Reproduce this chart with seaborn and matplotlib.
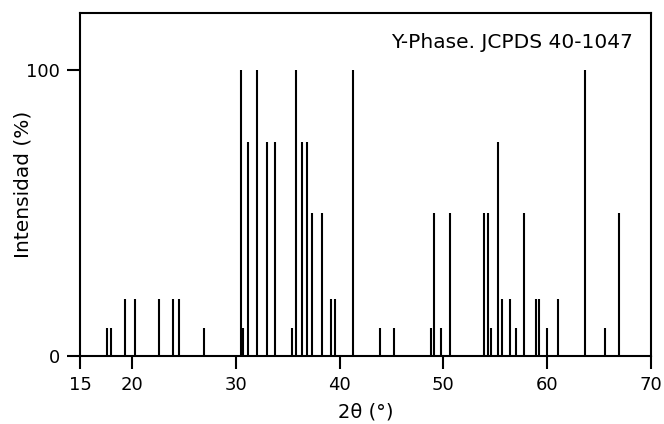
import numpy as np
import matplotlib
matplotlib.use("Agg")
import matplotlib.pyplot as plt
import seaborn as sns

# Y-phase reference pattern (JCPDS 40-1047): peak positions (2theta) and relative intensities
two_theta = [17.56, 17.95, 19.30, 20.26, 22.60, 23.95, 24.49, 26.98,
             30.54, 30.64, 30.72, 31.17, 32.00, 33.00, 33.77,
             35.45, 35.80, 36.37, 36.88, 37.33, 38.35, 39.22, 39.53,
             41.25, 43.92, 45.28, 48.80, 49.07, 49.80, 50.68,
             53.90, 54.27, 54.62, 55.25, 55.66, 56.40, 57.04, 57.80,
             58.96, 59.20, 59.98, 61.05, 63.60, 65.58, 66.95]
intensity = [10, 10, 20, 20, 20, 20, 20, 10,
             100, 10, 10, 75, 100, 75, 75,
             10, 100, 75, 75, 50, 50, 20, 20,
             100, 10, 10, 10, 50, 10, 50,
             50, 50, 10, 75, 20, 20, 10, 50,
             20, 20, 10, 20, 100, 10, 50]

x_ticks = [15, 20, 30, 40, 50, 60, 70]
y_ticks = [0, 100]

sns.set_style("ticks")
plt.rcParams['font.family'] = ['DejaVu Sans']
plt.rcParams['text.color'] = 'black'
plt.rcParams['axes.labelcolor'] = 'black'
plt.rcParams['xtick.color'] = 'black'
plt.rcParams['ytick.color'] = 'black'

fig = plt.figure(figsize=(6.64, 4.24), dpi=100)
ax = fig.add_axes([0.1205, 0.16, 0.86, 0.809])

ax.vlines(two_theta, 0, intensity, color='black', linewidth=1.5)

ax.set_xlim(15, 70)
ax.set_ylim(0, 120)
ax.set_xticks(x_ticks)
ax.set_yticks(y_ticks)
ax.tick_params(direction='out', length=9.5, width=1.5, labelsize=13, pad=5)
for s in ax.spines.values():
    s.set_linewidth(1.5)
    s.set_color('black')

ax.set_xlabel("2θ (°)", fontsize=14)
ax.set_ylabel("Intensidad (%)", fontsize=14.5)
ax.xaxis.set_label_coords(0.5, -0.135)
ax.yaxis.set_label_coords(-0.083, 0.5)
ax.text(0.968, 0.915, "Y-Phase. JCPDS 40-1047", transform=ax.transAxes,
        ha='right', va='center', fontsize=14.5)

fig.savefig("out.png", dpi=100)
